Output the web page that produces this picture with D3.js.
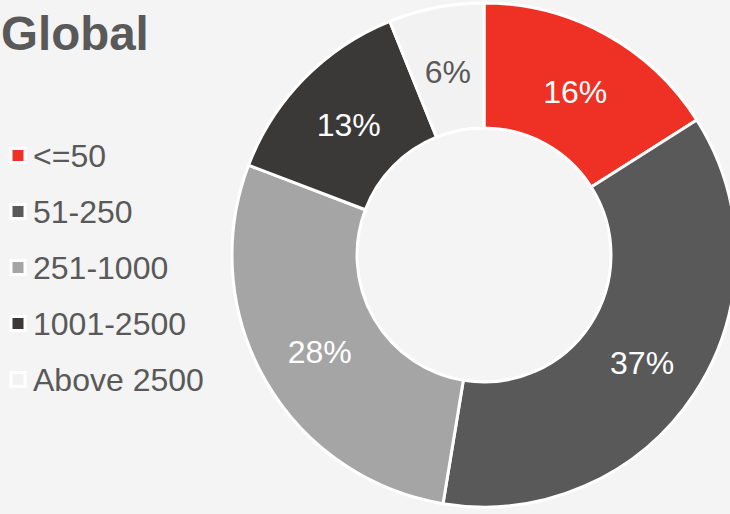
<!DOCTYPE html>
<html>
<head>
<meta charset="utf-8">
<script src="https://cdn.jsdelivr.net/npm/d3@7"></script>
<style>
  body { margin: 0; background: #f4f4f4; }
  svg { display: block; font-family: "Liberation Sans", Arial, sans-serif; }
</style>
</head>
<body>
<div id="chart"></div>
<script>
// chart data
const categories = ["<=50", "51-250", "251-1000", "1001-2500", "Above 2500"];
const shares = [16.0, 36.6, 28.2, 13.1, 6.1];
const labels = ["16%", "37%", "28%", "13%", "6%"];
const colors = ["#ee3124", "#595959", "#a5a5a5", "#3a3938", "#f2f2f2"];
const labelColors = ["#ffffff", "#ffffff", "#ffffff", "#ffffff", "#595959"];

const width = 730,
  height = 514,
  cx = 484,
  cy = 255,
  outerR = 252,
  innerR = 127;

const svg = d3.select("#chart")
  .append("svg")
  .attr("width", width)
  .attr("height", height)

svg.append("rect")
  .attr("width", width)
  .attr("height", height)
  .attr("fill", "#f4f4f4")

// title
svg.append("text")
  .attr("x", 1)
  .attr("y", 50)
  .attr("font-size", 47.5)
  .attr("font-weight", "bold")
  .attr("fill", "#595959")
  .text("Global")

// donut
const pie = d3.pie().sort(null).value(d => d)
const arc = d3.arc().innerRadius(innerR).outerRadius(outerR)
const labelArc = d3.arc().innerRadius((innerR + outerR) / 2).outerRadius((innerR + outerR) / 2)

const g = svg.append("g")
  .attr("transform", `translate(${cx},${cy})`)

const slices = pie(shares)

g.selectAll("path.slice")
  .data(slices)
  .join("path")
  .attr("class", "slice")
  .attr("d", arc)
  .attr("fill", (d, i) => colors[i])
  .attr("stroke", "#ffffff")
  .attr("stroke-width", 3)
  .attr("stroke-linejoin", "round")

g.selectAll("text.pct")
  .data(slices)
  .join("text")
  .attr("class", "pct")
  .attr("transform", d => `translate(${labelArc.centroid(d)})`)
  .attr("text-anchor", "middle")
  .attr("dy", "0.44em")
  .attr("font-size", 32)
  .attr("fill", (d, i) => labelColors[i])
  .text((d, i) => labels[i])

// legend
const legendY = d3.scalePoint()
  .domain(categories)
  .range([155, 379])

const legend = svg.selectAll("g.legend")
  .data(categories)
  .join("g")
  .attr("class", "legend")
  .attr("transform", d => `translate(0,${legendY(d)})`)

legend.append("rect")
  .attr("x", 11)
  .attr("y", -6.5)
  .attr("width", 14)
  .attr("height", 14)
  .attr("fill", (d, i) => colors[i])
  .attr("stroke", "#ffffff")
  .attr("stroke-width", 3)

legend.append("text")
  .attr("x", 33)
  .attr("dy", "0.36em")
  .attr("font-size", 32)
  .attr("fill", "#595959")
  .text(d => d)
</script>
</body>
</html>
